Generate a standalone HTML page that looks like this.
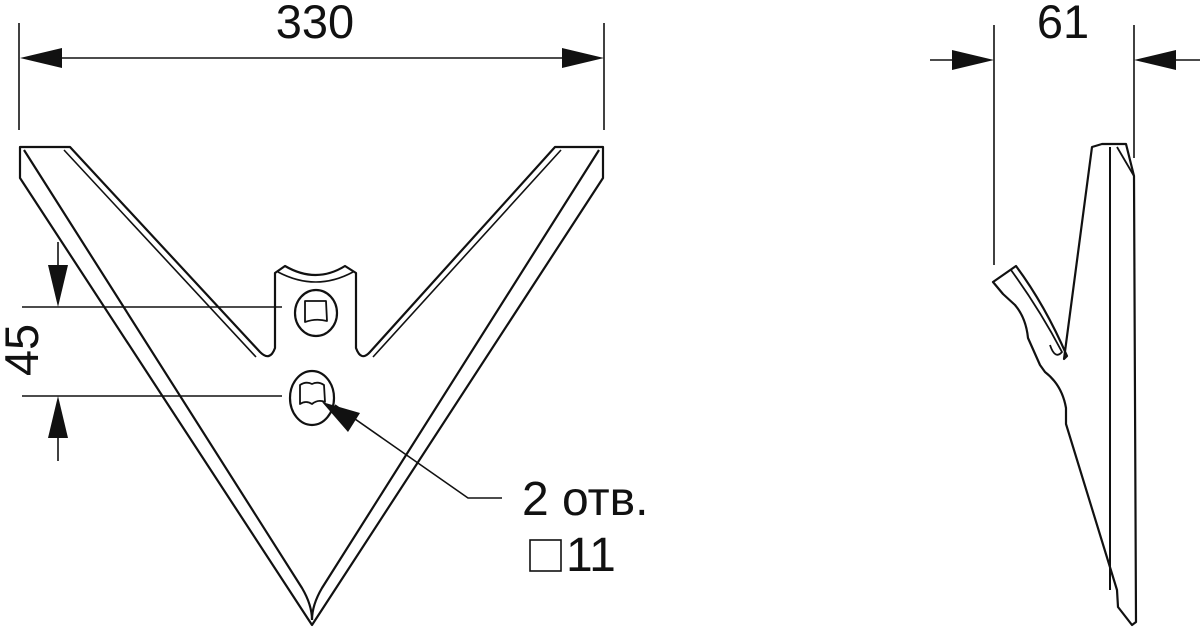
<!DOCTYPE html>
<html><head><meta charset="utf-8"><style>
html,body{margin:0;padding:0;background:#fff;}
svg{display:block}
text{font-family:"Liberation Sans","DejaVu Sans",sans-serif;fill:#111}
</style></head><body>
<svg width="1200" height="628" viewBox="0 0 1200 628" xmlns="http://www.w3.org/2000/svg">
<g stroke="#111" fill="none" stroke-width="1.6">
<line x1="19" y1="23" x2="19" y2="130"/>
<line x1="604" y1="23" x2="604" y2="130"/>
<line x1="60" y1="58" x2="564" y2="58"/>
<line x1="994" y1="25" x2="994" y2="265"/>
<line x1="1134" y1="25" x2="1134" y2="158"/>
<line x1="930" y1="60" x2="960" y2="60"/>
<line x1="1172" y1="60" x2="1200" y2="60"/>
<line x1="22" y1="307" x2="282" y2="307"/>
<line x1="22" y1="396" x2="282" y2="396"/>
<line x1="58" y1="242" x2="58" y2="270"/>
<line x1="58" y1="432" x2="58" y2="461"/>
<polyline points="335,405 468,498 502,498"/>
</g>
<g fill="#111">
<polygon points="20,58 62,48 62,68"/>
<polygon points="604,58 562,48 562,68"/>
<polygon points="994,60 952,50 952,70"/>
<polygon points="1134,60 1176,50 1176,70"/>
<polygon points="58,307 48,265 68,265"/>
<polygon points="58,396 48,438 68,438"/>
<polygon points="322,402 360,413 348,432"/>
</g>
<text x="315" y="38" font-size="47" text-anchor="middle">330</text>
<text x="1063" y="38" font-size="47" text-anchor="middle">61</text>
<text font-size="47" text-anchor="middle" transform="translate(38,350) rotate(-90)">45</text>
<text x="522" y="515" font-size="48">2 отв.</text>
<rect x="530" y="540" width="31" height="31" fill="none" stroke="#111" stroke-width="1.6"/>
<text x="566" y="571" font-size="48">11</text>

<g stroke="#111" fill="none" stroke-width="2.2" stroke-linejoin="round">
<path d="M20,147 L70,147 L260,352 Q270,362 275,348 L275,273 L285,266 Q316,284 345,266 L356,273 L356,348 Q361,362 370,352 L555,147 L603,147 L603,178 L312,625 L20,178 Z"/>
<path d="M24,150 L302,588 Q312,605 312,620"/>
<path d="M599,150 L322,588 Q312,605 312,620"/>
<path d="M64,150 L256,357" stroke-width="1.6"/>
<path d="M561,150 L373,357" stroke-width="1.6"/>
<path d="M278,272 Q316,292 353,272" stroke-width="1.6"/>
<ellipse cx="316" cy="313" rx="21" ry="23"/>
<path d="M305,301 L326,301 L327,321 Q316,318 305,322 Z" stroke-width="1.8"/>
<ellipse cx="312" cy="398" rx="22" ry="27"/>
<path d="M300,385 Q306,381 312,384 Q318,381 324,385 L325,402 Q318,399 312,404 Q306,400 300,404 Z" stroke-width="1.8"/>
</g>

<g stroke="#111" fill="none" stroke-width="2.2" stroke-linejoin="round">
<path d="M1092,147 L1102,144 L1126,144 L1134,176 L1136,622 L1132,625 L1118,607 L1117,590 L1066,424 L1066,408 Q1062,385 1045,372 L1040,365 L1028,338 Q1026,318 1015,305 L1003,294 L993,282 L1016,266 Q1045,305 1067,356 L1064,359 L1092,147 Z"/>
<path d="M1110,147 L1110,590" stroke-width="2"/>
<path d="M1117,147 L1134,176" stroke-width="1.8"/>
<path d="M1011,270 Q1040,310 1062,352 Q1055,360 1050,345" stroke-width="1.8"/>
</g>
</svg>
</body></html>
